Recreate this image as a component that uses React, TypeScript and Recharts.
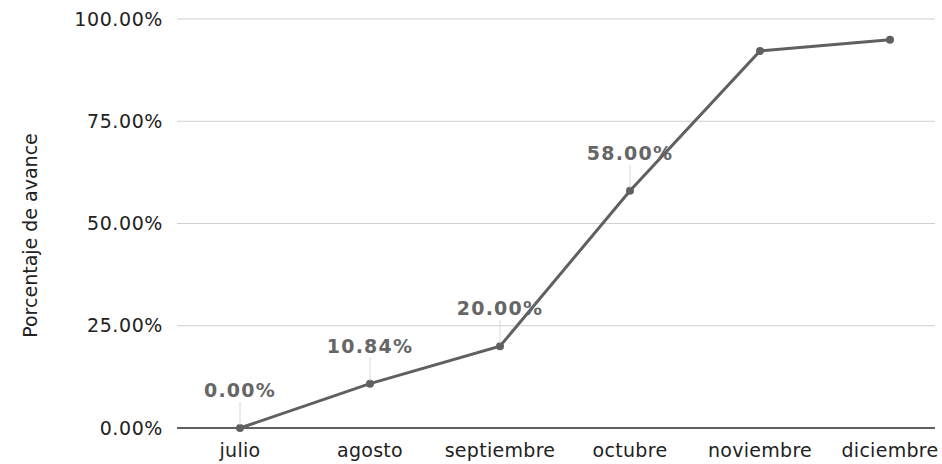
import { CartesianGrid, LabelList, Line, LineChart, ReferenceLine, XAxis, YAxis } from "recharts";

const months = ["julio", "agosto", "septiembre", "octubre", "noviembre", "diciembre"];
const avance = [0, 10.84, 20, 58, 92.2, 94.9];
const labeled = [true, true, true, true, false, false];
const yTicks = [0, 25, 50, 75, 100];

const data = months.map((m, i) => ({ mes: m, v: avance[i] }));

const FONT = "'DejaVu Sans', Verdana, sans-serif";
const fmt = (v: number) => `${v.toFixed(2)}%`;

function PointLabel(props: any) {
  const { x, y, value, index } = props;
  if (!labeled[index]) return null;
  return (
    <g>
      <line x1={x} x2={x} y1={y - 26} y2={y - 3} stroke="#d8d8d8" strokeWidth={1} />
      <text
        x={x}
        y={y - 31}
        textAnchor="middle"
        fontFamily={FONT}
        fontSize={19}
        fontWeight="bold"
        fill="#666"
        letterSpacing={1.2}
      >
        {fmt(value)}
      </text>
    </g>
  );
}

export default function App() {
  return (
    <div style={{ position: "absolute", left: 0, top: 0, background: "#fff" }}>
      <LineChart
        width={942}
        height={464}
        data={data}
        margin={{ top: 19, right: 7, bottom: 0, left: 0 }}
      >
        <CartesianGrid vertical={false} stroke="#cfcfcf" />
        <XAxis
          dataKey="mes"
          axisLine={false}
          tickLine={false}
          tickMargin={10}
          height={36}
          padding={{ left: 63, right: 45 }}
          tick={{ fontFamily: FONT, fontSize: 19, fill: "#222", letterSpacing: 0.3 }}
        />
        <YAxis
          width={177}
          domain={[0, 100]}
          ticks={yTicks}
          axisLine={false}
          tickLine={false}
          tickMargin={8}
          tickFormatter={fmt}
          tick={{ fontFamily: FONT, fontSize: 19, fill: "#222", letterSpacing: 0.6 }}
          label={{
            value: "Porcentaje de avance",
            angle: -90,
            position: "insideLeft",
            dx: 25,
            dy: 12,
            style: { fontFamily: FONT, fontSize: 19, fill: "#222", textAnchor: "middle" },
          }}
        />
        <ReferenceLine y={0} stroke="#333" strokeWidth={1.5} />
        <Line
          type="linear"
          dataKey="v"
          stroke="#606060"
          strokeWidth={3}
          dot={{ r: 2.5, fill: "#606060", stroke: "#606060" }}
          activeDot={false}
          isAnimationActive={false}
        >
          <LabelList dataKey="v" content={<PointLabel />} />
        </Line>
      </LineChart>
    </div>
  );
}
